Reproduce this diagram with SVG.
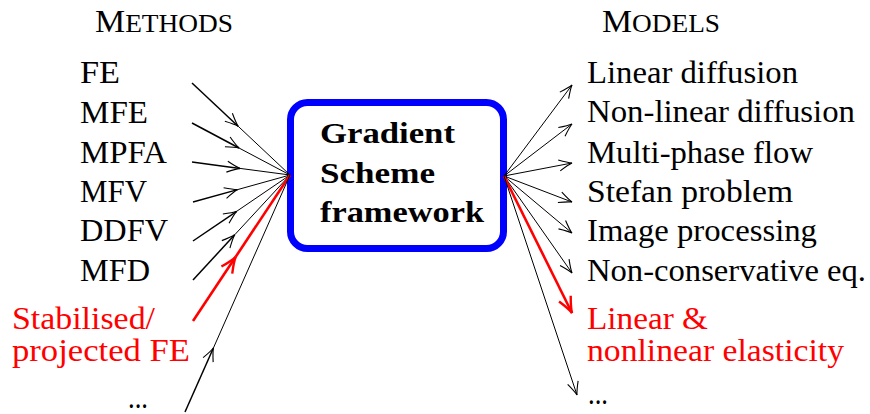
<svg xmlns="http://www.w3.org/2000/svg" width="870" height="414" viewBox="0 0 870 414" font-family="Liberation Serif, DejaVu Serif, serif">
<style>
text{font-size:31px;fill:#000}
.red{fill:#f00}
.bold{font-weight:bold;font-size:30px}
.k{stroke:#000;fill:none}
.k1{stroke-width:1.5}
.k2{stroke-width:1}
.r{stroke:#f00;fill:none;stroke-width:2.6}
</style>
<defs>
<marker id="ah" viewBox="-16 -8 18 16" refX="0" refY="0" markerWidth="18" markerHeight="16" markerUnits="userSpaceOnUse" orient="auto">
<path d="M-13,-5.5 Q-4,-1 0,0 Q-4,1 -13,5.5" fill="none" stroke="#000" stroke-width="1.1"/>
</marker>
<marker id="ahr" viewBox="-19 -9 21 18" refX="0" refY="0" markerWidth="21" markerHeight="18" markerUnits="userSpaceOnUse" orient="auto">
<path d="M-16,-6.5 Q-5,-1 0,0 Q-5,1 -16,6.5" fill="none" stroke="#f00" stroke-width="2.4"/>
</marker>
</defs>

<g id="header-methods"><text x="95" y="32" textLength="138" lengthAdjust="spacingAndGlyphs">M<tspan font-size="25">ETHODS</tspan></text></g>
<g id="header-models"><text x="602" y="32" textLength="118" lengthAdjust="spacingAndGlyphs">M<tspan font-size="25">ODELS</tspan></text></g>

<g id="gs-framework">
<rect x="290.5" y="102.5" width="213" height="146" rx="17" ry="17" fill="#fff" stroke="#00f" stroke-width="7"/>
<text class="bold" x="320" y="143" textLength="135" lengthAdjust="spacingAndGlyphs">Gradient</text>
<text class="bold" x="320" y="183" textLength="115" lengthAdjust="spacingAndGlyphs">Scheme</text>
<text class="bold" x="320" y="222" textLength="164" lengthAdjust="spacingAndGlyphs">framework</text>
</g>

<g id="m-fe"><text x="80" y="83" textLength="40" lengthAdjust="spacingAndGlyphs">FE</text></g>
<g id="m-mfe"><text x="80" y="123" textLength="68" lengthAdjust="spacingAndGlyphs">MFE</text></g>
<g id="m-mpfa"><text x="80" y="163" textLength="87" lengthAdjust="spacingAndGlyphs">MPFA</text></g>
<g id="m-mfv"><text x="80" y="202" textLength="67" lengthAdjust="spacingAndGlyphs">MFV</text></g>
<g id="m-ddfv"><text x="80" y="241" textLength="88" lengthAdjust="spacingAndGlyphs">DDFV</text></g>
<g id="m-mfd"><text x="80" y="281" textLength="70" lengthAdjust="spacingAndGlyphs">MFD</text></g>
<g id="m-stab"><text class="red" x="12" y="329" textLength="143" lengthAdjust="spacingAndGlyphs">Stabilised/</text><text class="red" x="12" y="361" textLength="178" lengthAdjust="spacingAndGlyphs">projected FE</text></g>
<g id="m-more"><text x="128" y="408" font-size="25" textLength="20" lengthAdjust="spacingAndGlyphs">...</text></g>

<g id="d-lin"><text x="587" y="83" textLength="211" lengthAdjust="spacingAndGlyphs">Linear diffusion</text></g>
<g id="d-nonlin"><text x="587" y="122" textLength="268" lengthAdjust="spacingAndGlyphs">Non-linear diffusion</text></g>
<g id="d-multi"><text x="587" y="163" textLength="226" lengthAdjust="spacingAndGlyphs">Multi-phase flow</text></g>
<g id="d-stefan"><text x="587" y="202" textLength="206" lengthAdjust="spacingAndGlyphs">Stefan problem</text></g>
<g id="d-image"><text x="587" y="241" textLength="230" lengthAdjust="spacingAndGlyphs">Image processing</text></g>
<g id="d-noncons"><text x="587" y="281" textLength="279" lengthAdjust="spacingAndGlyphs">Non-conservative eq.</text></g>
<g id="d-elast"><text class="red" x="587" y="329" textLength="121" lengthAdjust="spacingAndGlyphs">Linear &amp;</text><text class="red" x="587" y="361" textLength="257" lengthAdjust="spacingAndGlyphs">nonlinear elasticity</text></g>
<g id="d-more"><text x="588" y="404" textLength="20" lengthAdjust="spacingAndGlyphs">...</text></g>

<g id="connectors">
<line class="k k1" x1="192" y1="83" x2="238.1" y2="126.2" marker-end="url(#ah)"/><line class="k k2" x1="238.1" y1="126.2" x2="290" y2="175"/>
<line class="k k1" x1="192" y1="123" x2="239" y2="148" marker-end="url(#ah)"/><line class="k k2" x1="239" y1="148" x2="290" y2="175"/>
<line class="k k1" x1="192" y1="162" x2="240" y2="168.4" marker-end="url(#ah)"/><line class="k k2" x1="240" y1="168.4" x2="290" y2="175"/>
<line class="k k1" x1="193" y1="202" x2="237.6" y2="189.6" marker-end="url(#ah)"/><line class="k k2" x1="237.6" y1="189.6" x2="290" y2="175"/>
<line class="k k1" x1="193" y1="241" x2="236.7" y2="211.3" marker-end="url(#ah)"/><line class="k k2" x1="236.7" y1="211.3" x2="290" y2="175"/>
<line class="k k1" x1="193" y1="280" x2="234.7" y2="234.8" marker-end="url(#ah)"/><line class="k k2" x1="234.7" y1="234.8" x2="290" y2="175"/>
<line class="r" x1="193" y1="321" x2="235.7" y2="256.8" marker-end="url(#ahr)"/><line class="r" x1="235.7" y1="256.8" x2="290" y2="175"/>
<line class="k k1" x1="185" y1="412" x2="213.4" y2="348" marker-end="url(#ah)"/><line class="k k2" x1="213.4" y1="348" x2="290" y2="175"/>

<line class="k k2" x1="504" y1="176" x2="572" y2="85" marker-end="url(#ah)"/>
<line class="k k2" x1="504" y1="176" x2="572" y2="124" marker-end="url(#ah)"/>
<line class="k k2" x1="504" y1="176" x2="572" y2="163" marker-end="url(#ah)"/>
<line class="k k2" x1="504" y1="176" x2="572" y2="202" marker-end="url(#ah)"/>
<line class="k k2" x1="504" y1="176" x2="572" y2="233" marker-end="url(#ah)"/>
<line class="k k2" x1="504" y1="176" x2="572" y2="273" marker-end="url(#ah)"/>
<line class="r" x1="504" y1="176" x2="572" y2="313" marker-end="url(#ahr)"/>
<line class="k k2" x1="504" y1="176" x2="577" y2="395" marker-end="url(#ah)"/>
</g>
</svg>
